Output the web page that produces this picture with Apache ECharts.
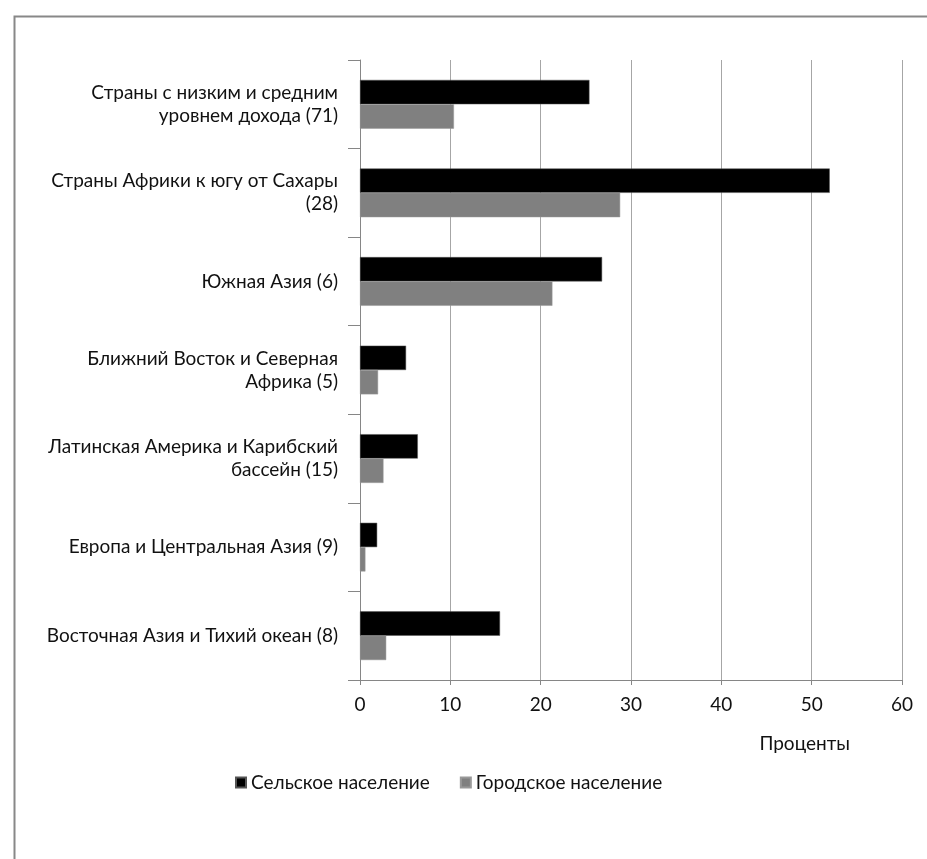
<!DOCTYPE html>
<html>
<head>
<meta charset="utf-8">
<script src="https://cdn.jsdelivr.net/npm/echarts@6/dist/echarts.min.js"></script>
<style>
html,body{margin:0;padding:0;background:#fff;}
#chart{width:927px;height:859px;}
</style>
</head>
<body>
<div id="chart"></div>
<script>
const categories = [
  'Страны с низким и средним\nуровнем дохода (71)',
  'Страны Африки к югу от Сахары\n(28)',
  'Южная Азия (6)',
  'Ближний Восток и Северная\nАфрика (5)',
  'Латинская Америка и Карибский\nбассейн (15)',
  'Европа и Центральная Азия (9)',
  'Восточная Азия и Тихий океан (8)'
];
const seriesNames = ['Сельское население', 'Городское население'];
const rural = [25.4, 52.0, 26.8, 5.1, 6.4, 1.9, 15.5];
const urban = [10.4, 28.8, 21.3, 2.0, 2.6, 0.6, 2.9];
const axisTitle = 'Проценты';

const FONT = 'Lato';
const FS = 19;
const chart = echarts.init(document.getElementById('chart'));
chart.setOption({
  animation: false,
  textStyle: {fontFamily: FONT},
  graphic: [{
    type: 'rect', left: 12, top: 14,
    shape: {width: 1000, height: 1000},
    style: {fill: 'none', stroke: '#888', lineWidth: 2}
  }],
  legend: {
    left: 230, top: 768,
    itemWidth: 10, itemHeight: 10, itemGap: 30,
    icon: 'rect',
    textStyle: {fontFamily: FONT, fontSize: FS, color: '#111'},
    data: seriesNames
  },
  grid: {left: 360, right: 25, top: 60, bottom: 179, containLabel: false},
  xAxis: {
    type: 'value', min: 0, max: 60, interval: 10,
    name: axisTitle, nameLocation: 'end', nameGap: -52,
    nameTextStyle: {fontFamily: FONT, fontSize: FS, color: '#111', align: 'right', verticalAlign: 'top', padding: [54, 0, 0, 0]},
    axisLine: {show: true, lineStyle: {color: '#868686'}},
    axisTick: {show: true, length: 5, lineStyle: {color: '#868686'}},
    axisLabel: {fontFamily: FONT, fontSize: FS, color: '#111', margin: 15},
    splitLine: {show: true, lineStyle: {color: '#a6a6a6'}}
  },
  yAxis: {
    type: 'category', inverse: true, data: categories,
    axisLine: {show: true, lineStyle: {color: '#868686'}},
    axisTick: {show: true, length: 12, lineStyle: {color: '#868686'}},
    axisLabel: {fontFamily: FONT, fontSize: FS, color: '#111', margin: 22, lineHeight: 23, align: 'right'},
    splitLine: {show: false}
  },
  series: [
    {name: seriesNames[0], type: 'bar', data: rural, barGap: 0, barCategoryGap: '45%',
     itemStyle: {color: '#000000', borderColor: '#555', borderWidth: 0.5}},
    {name: seriesNames[1], type: 'bar', data: urban, barGap: 0, barCategoryGap: '45%',
     itemStyle: {color: '#808080', borderColor: '#999', borderWidth: 0.5}}
  ]
});
</script>
</body>
</html>
